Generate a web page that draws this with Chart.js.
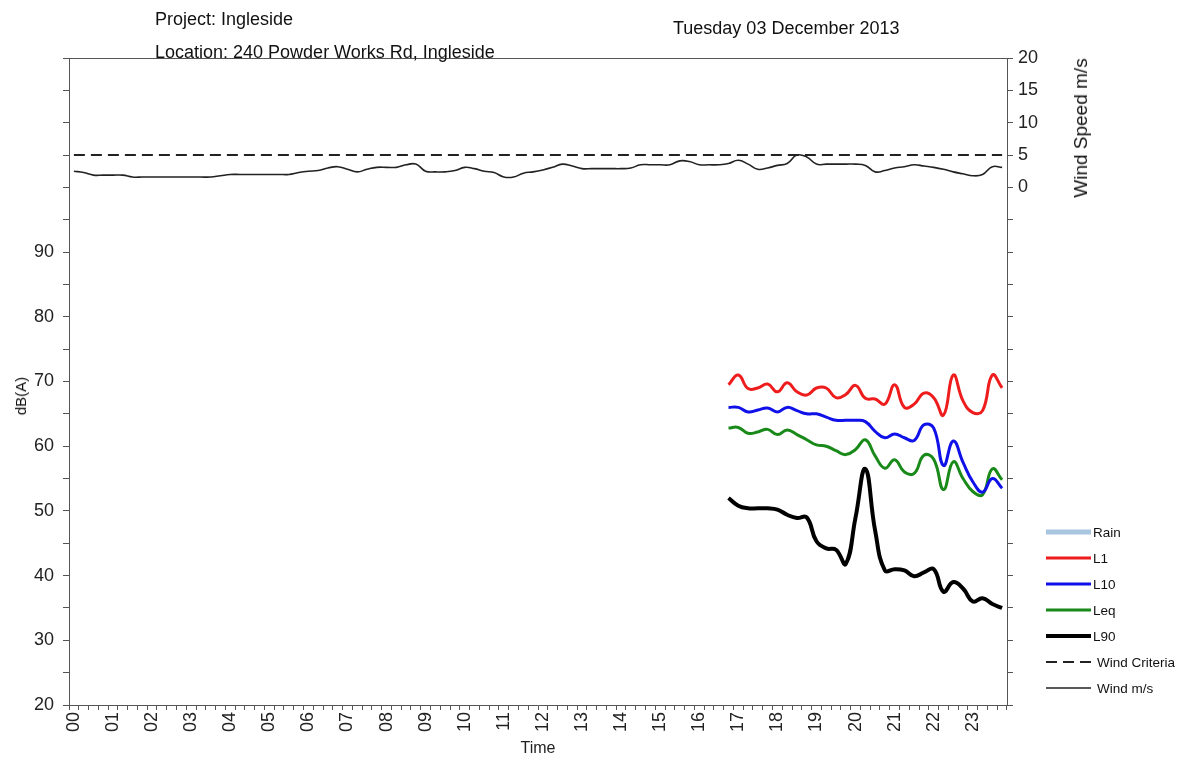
<!DOCTYPE html>
<html>
<head>
<meta charset="utf-8">
<script src="https://cdn.jsdelivr.net/npm/chart.js@4/dist/chart.umd.min.js"></script>
<style>
  body { margin: 0; background: #fff; font-family: Arial, "Liberation Sans", sans-serif; color: #111; }
  #wrap { position: relative; width: 1185px; height: 758px; }
  #chart { position: absolute; left: 0; top: 0; }
  .txt { position: absolute; white-space: nowrap; font-size: 18px; line-height: 20px; }
  .legend-row { position: absolute; left: 1045px; height: 20px; display: flex; align-items: center; font-size: 13.5px; white-space: nowrap; }
  .legend-row svg { display: block; }
</style>
</head>
<body>
<div id="wrap">
  <canvas id="chart" width="1185" height="758"></canvas>
  <div class="txt" style="left:155px; top:9px;">Project: Ingleside</div>
  <div class="txt" style="left:155px; top:42px;">Location: 240 Powder Works Rd, Ingleside</div>
  <div class="txt" style="left:673px; top:18px;">Tuesday 03 December 2013</div>
  <div class="txt" style="left:1081px; top:128px; font-size:19px; transform: translate(-50%,-50%) rotate(-90deg);">Wind Speed m/s</div>
  <div class="txt" style="left:21px; top:396px; font-size:15px; transform: translate(-50%,-50%) rotate(-90deg);">dB(A)</div>
  <div id="legend"></div>
</div>
<script>
// hour labels on the time axis
const hourLabels = ["00","01","02","03","04","05","06","07","08","09","10","11",
  "12","13","14","15","16","17","18","19","20","21","22","23"];

// readings every 15 minutes
const stepHours = 0.25;
const noiseStart = 16.75;   // noise logger starts 16:45
const windStart = 0;

const L1 = [69.5, 71.0, 68.9, 69.0, 69.6, 68.4, 69.8, 68.4, 67.9, 69.0, 69.0, 67.5, 68.0, 69.4, 67.4,
  67.3, 66.5, 69.5, 66.0, 66.5, 68.2, 67.5, 64.8, 71.0, 67.0, 65.2, 65.5, 71.0, 69.0];
const L10 = [66.0, 66.0, 65.3, 65.6, 65.9, 65.3, 66.0, 65.5, 65.0, 65.0, 64.5, 64.0, 64.0, 64.0, 63.8,
  62.3, 61.3, 61.9, 61.3, 60.9, 63.3, 62.8, 57.0, 60.8, 57.5, 54.5, 52.9, 55.0, 53.5];
const Leq = [62.8, 62.9, 62.0, 62.2, 62.6, 61.8, 62.5, 61.8, 61.0, 60.2, 60.0, 59.3, 58.7, 59.5, 61.0,
  58.5, 56.6, 57.9, 56.0, 55.8, 58.6, 58.0, 53.3, 57.6, 55.0, 53.0, 52.5, 56.5, 54.8];
const L90 = [52.0, 50.8, 50.4, 50.4, 50.4, 50.2, 49.4, 48.9, 49.0, 45.3, 44.2, 44.0, 41.8, 49.0, 56.5,
  47.0, 40.8, 41.0, 40.8, 39.9, 40.5, 41.0, 37.5, 39.0, 38.0, 36.0, 36.5, 35.6, 35.0];

const windSpeed = [
  2.5, 2.3, 1.9, 1.9, 1.9, 1.9, 1.6, 1.6, 1.6, 1.6, 1.6, 1.6,
  1.6, 1.6, 1.6, 1.8, 2.0, 2.0, 2.0, 2.0, 2.0, 2.0, 2.0, 2.3,
  2.5, 2.6, 3.0, 3.2, 2.8, 2.4, 2.8, 3.1, 3.1, 3.1, 3.5, 3.6,
  2.5, 2.4, 2.4, 2.6, 3.1, 2.9, 2.5, 2.3, 1.6, 1.6, 2.2, 2.4,
  2.7, 3.1, 3.6, 3.3, 2.9, 2.9, 2.9, 2.9, 2.9, 3.0, 3.5, 3.5,
  3.5, 3.5, 4.1, 4.0, 3.5, 3.5, 3.5, 3.7, 4.2, 3.6, 2.8, 3.0,
  3.4, 3.7, 5.0, 4.7, 3.6, 3.6, 3.6, 3.6, 3.6, 3.4, 2.4, 2.6,
  3.0, 3.2, 3.5, 3.3, 3.1, 2.8, 2.4, 2.1, 1.8, 2.0, 3.2, 3.1];
const windCriteria = 5;
const rain = [];

const timeEnd = 23.75;

const toPoints = (vals, start) => vals.map((v, i) => ({ x: start + i * stepHours, y: v }));

const borderBox = {
  id: "borderBox",
  afterDraw(chart) {
    const { ctx, chartArea } = chart;
    ctx.save();
    ctx.strokeStyle = "#555";
    ctx.lineWidth = 1;
    ctx.beginPath();
    ctx.moveTo(chartArea.left, chartArea.top + 0.5);
    ctx.lineTo(chartArea.right, chartArea.top + 0.5);
    ctx.stroke();
    ctx.restore();
  }
};

const isWhole = (v) => Math.abs(v - Math.round(v)) < 1e-6;

const fontFamily = "Arial, 'Liberation Sans', sans-serif";

const datasets = [
  { type: "bar", label: "Rain", data: rain, backgroundColor: "#a9c6e0", yAxisID: "y", legendWidth: 5 },
  { label: "L1", data: toPoints(L1, noiseStart), borderColor: "#ee1c1c", borderWidth: 3, yAxisID: "y" },
  { label: "L10", data: toPoints(L10, noiseStart), borderColor: "#1010e8", borderWidth: 3, yAxisID: "y" },
  { label: "Leq", data: toPoints(Leq, noiseStart), borderColor: "#198a19", borderWidth: 3, yAxisID: "y" },
  { label: "L90", data: toPoints(L90, noiseStart), borderColor: "#000000", borderWidth: 4, yAxisID: "y" },
  { label: "Wind Criteria", data: [{ x: 0, y: windCriteria }, { x: timeEnd, y: windCriteria }],
    borderColor: "#222", borderWidth: 2, borderDash: [11, 6], tension: 0, yAxisID: "yw" },
  { label: "Wind m/s", data: toPoints(windSpeed, windStart), borderColor: "#222", borderWidth: 1.6, yAxisID: "yw" }
];

new Chart(document.getElementById("chart"), {
  type: "line",
  data: { datasets: datasets },
  plugins: [borderBox],
  options: {
    responsive: false,
    animation: false,
    layout: { padding: { top: 58, left: 0, right: 0, bottom: 0 } },
    elements: { point: { radius: 0 }, line: { tension: 0.45, fill: false } },
    plugins: { legend: { display: false }, tooltip: { enabled: false } },
    scales: {
      x: {
        type: "linear", min: 0, max: timeEnd,
        afterFit: (s) => { s.height = 53; },
        border: { color: "#555", width: 1 },
        grid: { drawOnChartArea: false, tickLength: 5, color: "#555" },
        ticks: {
          stepSize: stepHours, autoSkip: false, maxRotation: 90, minRotation: 90,
          color: "#222", font: { family: fontFamily, size: 18 }, padding: 2,
          callback: (v) => isWhole(v) ? hourLabels[Math.round(v)] : ""
        },
        title: { display: true, text: "Time", color: "#222", font: { family: fontFamily, size: 16 }, padding: { top: 0, bottom: 0 } }
      },
      y: {
        position: "left", min: 20, max: 120,
        afterFit: (s) => { s.width = 69; },
        border: { color: "#555", width: 1 },
        grid: { drawOnChartArea: false, tickLength: 6, color: "#555" },
        ticks: {
          stepSize: 5, color: "#222", font: { family: fontFamily, size: 18 }, padding: 9,
          callback: (v) => (v % 10 === 0 && v <= 90) ? v : ""
        }
      },
      yw: {
        position: "right", min: -80, max: 20,
        afterFit: (s) => { s.width = 178; },
        border: { color: "#555", width: 1 },
        grid: { drawOnChartArea: false, tickLength: 6, color: "#555" },
        ticks: {
          stepSize: 5, color: "#222", font: { family: fontFamily, size: 18 }, padding: 5,
          callback: (v) => v >= 0 ? v : ""
        }
      }
    }
  }
});

// legend, built from the datasets
const legendTop = 522;
const legendGap = 26;
const legendEl = document.getElementById("legend");
datasets.forEach((ds, i) => {
  const row = document.createElement("div");
  row.className = "legend-row";
  row.style.top = (legendTop + i * legendGap) + "px";
  const color = ds.type === "bar" ? ds.backgroundColor : ds.borderColor;
  const w = ds.legendWidth || ds.borderWidth;
  const dash = ds.borderDash ? ds.borderDash.join(",") : "none";
  const gap = ds.borderDash || ds.label === "Wind m/s" ? 6 : 2;
  row.innerHTML =
    '<svg width="' + (46 + gap) + '" height="20"><line x1="1" y1="10" x2="46" y2="10" stroke="' + color +
    '" stroke-width="' + w + '" stroke-dasharray="' + dash + '"/></svg><span>' + ds.label + "</span>";
  legendEl.appendChild(row);
});
</script>
</body>
</html>
